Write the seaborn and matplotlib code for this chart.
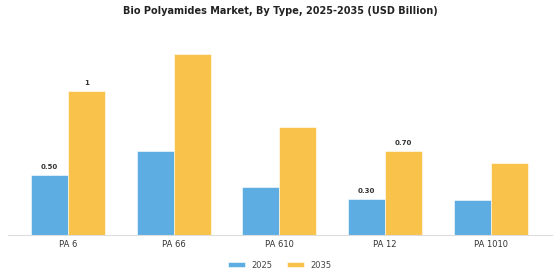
import matplotlib
matplotlib.use("Agg")
import matplotlib.pyplot as plt
import seaborn as sns
import pandas as pd

categories = ["PA 6", "PA 66", "PA 610", "PA 12", "PA 1010"]
years = ["2025", "2035"]
values_2025 = [0.50, 0.70, 0.40, 0.30, 0.29]
values_2035 = [1.20, 1.51, 0.90, 0.70, 0.60]
# bar labels shown in the chart (category, year, text)
bar_labels = [("PA 6", "2025", "0.50"), ("PA 6", "2035", "1"),
              ("PA 12", "2025", "0.30"), ("PA 12", "2035", "0.70")]
title = "Bio Polyamides Market, By Type, 2025-2035 (USD Billion)"
colors = ["#5DADE2", "#F8C24B"]

df = pd.DataFrame({
    "Type": categories * 2,
    "Year": [years[0]] * len(categories) + [years[1]] * len(categories),
    "Value": values_2025 + values_2035,
})

sns.set_theme(style="white")
plt.rcParams["font.family"] = ["DejaVu Sans"]

fig = plt.figure(figsize=(5.6, 2.8), dpi=100)
ax = fig.add_axes([0.014, 0.161, 0.972, 0.728])
sns.barplot(data=df, x="Type", y="Value", hue="Year", palette=colors,
            width=0.7, saturation=1, ax=ax, legend=True,
            edgecolor="white", linewidth=0.4)

ax.set_xlim(-0.57, 4.58)
ax.set_ylim(0, 1.7)
ax.set_xlabel("")
ax.set_ylabel("")
ax.set_yticks([])
for s in ["top", "right", "left"]:
    ax.spines[s].set_visible(False)
ax.spines["bottom"].set_color("#dddddd")
ax.spines["bottom"].set_linewidth(0.8)
ax.tick_params(axis="x", labelsize=6, colors="#444444", length=2, width=0.6, pad=2)
for lbl in ax.get_xticklabels():
    lbl.set_color("#333333")

# annotate selected bars
for cont, yr in zip(ax.containers, years):
    for bar, cat in zip(cont, categories):
        for c, y, t in bar_labels:
            if c == cat and y == yr:
                ax.text(bar.get_x() + bar.get_width() / 2, bar.get_height() + 0.04, t,
                        ha="center", va="bottom", fontsize=5, fontweight="bold",
                        color="#333333")

leg = ax.legend(loc="upper center", bbox_to_anchor=(0.5, -0.09), ncol=2, frameon=False,
                fontsize=6, handlelength=2.0, handleheight=0.6, columnspacing=1.8,
                labelcolor="#444444")

fig.suptitle(title, x=0.5, y=0.978, fontsize=7, fontweight="bold", color="#222222")
fig.savefig("out.png", dpi=100, facecolor="white")
